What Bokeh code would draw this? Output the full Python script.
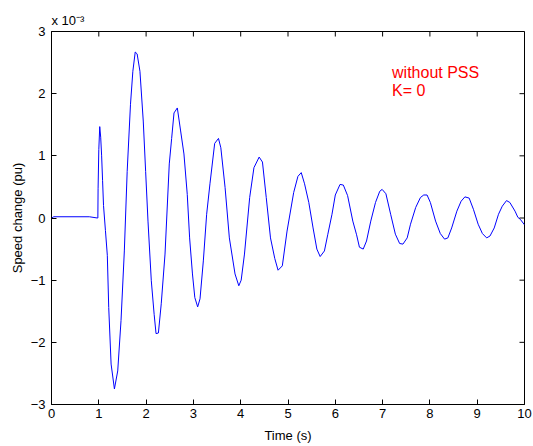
import math
from bokeh.plotting import figure
from bokeh.models import Label, FixedTicker, ColumnDataSource, Title
from bokeh.embed import file_html
from bokeh.resources import INLINE

# Time (s)
time_s = [0.0, 0.05, 0.8, 0.97, 0.98, 0.985, 1.0, 1.02, 1.04, 1.06, 1.08, 1.10, 1.14, 1.18,
          1.21, 1.26, 1.33, 1.40, 1.47, 1.54, 1.60, 1.67, 1.72, 1.77, 1.81, 1.87, 1.94, 1.99,
          2.04, 2.11, 2.17, 2.21, 2.26, 2.32, 2.40, 2.49, 2.54, 2.59, 2.66, 2.73, 2.80, 2.87,
          2.92, 2.98, 3.03, 3.09, 3.14, 3.21, 3.28, 3.35, 3.45, 3.53, 3.58, 3.67, 3.76, 3.88,
          3.96, 4.01, 4.08, 4.19, 4.28, 4.39, 4.46, 4.54, 4.63, 4.72, 4.79, 4.88, 4.98, 5.12,
          5.21, 5.28, 5.35, 5.44, 5.53, 5.61, 5.68, 5.77, 5.84, 5.93, 6.00, 6.10, 6.17, 6.26,
          6.37, 6.45, 6.51, 6.59, 6.66, 6.75, 6.85, 6.94, 6.99, 7.07, 7.17, 7.27, 7.36, 7.43,
          7.52, 7.59, 7.70, 7.80, 7.87, 7.94, 8.01, 8.12, 8.22, 8.31, 8.38, 8.46, 8.57, 8.66,
          8.74, 8.83, 8.92, 9.02, 9.11, 9.20, 9.27, 9.36, 9.45, 9.53, 9.62, 9.69, 9.80, 9.86,
          9.91, 10.0]
# Speed change (pu), in units of 1e-3
speed_change_e3 = [0.0, 0.02, 0.02, 0.0, 0.0, 0.47, 1.1, 1.47, 1.3, 1.0, 0.6, 0.2, -0.2, -0.6,
                   -1.44, -2.35, -2.75, -2.46, -1.65, -0.53, 0.75, 1.83, 2.36, 2.67, 2.64, 2.36,
                   1.56, 0.75, -0.05, -1.01, -1.55, -1.86, -1.85, -1.38, -0.58, 0.87, 1.28, 1.69,
                   1.77, 1.4, 1.03, 0.38, -0.32, -0.9, -1.28, -1.43, -1.3, -0.69, 0.06, 0.55, 1.2,
                   1.28, 1.13, 0.49, -0.32, -0.9, -1.09, -1.0, -0.58, 0.33, 0.81, 0.98, 0.9, 0.33,
                   -0.32, -0.65, -0.84, -0.77, -0.21, 0.41, 0.67, 0.73, 0.55, 0.25, -0.16, -0.5,
                   -0.62, -0.53, -0.27, 0.06, 0.37, 0.54, 0.53, 0.36, -0.05, -0.27, -0.47, -0.5,
                   -0.37, -0.05, 0.25, 0.43, 0.46, 0.39, 0.06, -0.26, -0.41, -0.42, -0.32, -0.1,
                   0.17, 0.33, 0.37, 0.37, 0.25, -0.05, -0.25, -0.34, -0.32, -0.16, 0.11, 0.27,
                   0.34, 0.32, 0.14, -0.1, -0.25, -0.32, -0.29, -0.16, 0.06, 0.19, 0.28, 0.25,
                   0.11, 0.01, -0.02, -0.11]

x_ticks = [0, 1, 2, 3, 4, 5, 6, 7, 8, 9, 10]
y_ticks = [-3, -2, -1, 0, 1, 2, 3]
x_min, x_max = 0, 10
y_min, y_max = -3, 3
annotation_lines = ["without PSS", "K= 0"]
exponent_text = "x 10\u207b\u00b3"

FONT = "Liberation Sans"

p = figure(width=533, height=446, x_range=(x_min, x_max), y_range=(y_min, y_max),
           output_backend="svg", toolbar_location=None,
           min_border_left=51, min_border_right=9, min_border_top=31, min_border_bottom=42)
p.background_fill_color = "white"
p.border_fill_color = "white"
p.outline_line_color = "black"
p.outline_line_width = 1
p.xgrid.visible = False
p.ygrid.visible = False

# exponent shown as title at upper left
p.title = Title(text=exponent_text, align="left", offset=0, standoff=8,
                text_font=FONT, text_font_size="13px", text_font_style="normal",
                text_color="black")

src = ColumnDataSource(dict(t=time_s, v=speed_change_e3))
p.line("t", "v", source=src, line_color="#0000ff", line_width=1)

for ax in (p.xaxis[0], p.yaxis[0]):
    ax.major_tick_in = 5
    ax.major_tick_out = 0
    ax.minor_tick_line_color = None
    ax.axis_line_color = "black"
    ax.major_tick_line_color = "black"
    ax.major_label_text_font = FONT
    ax.major_label_text_font_size = "13px"
    ax.major_label_text_color = "black"
    ax.axis_label_text_font = FONT
    ax.axis_label_text_font_size = "13px"
    ax.axis_label_text_font_style = "normal"
    ax.axis_label_text_color = "black"

p.xaxis[0].ticker = FixedTicker(ticks=x_ticks)
p.yaxis[0].ticker = FixedTicker(ticks=y_ticks)
p.xaxis[0].axis_label = "Time (s)"
p.yaxis[0].axis_label = "Speed change (pu)"
p.xaxis[0].major_label_standoff = 4
p.xaxis[0].axis_label_standoff = 7
p.yaxis[0].major_label_standoff = 6
p.yaxis[0].axis_label_standoff = 3

# inward ticks on top and right edges (box on)
p.ray(x=x_ticks, y=[y_max] * len(x_ticks), length=5, length_units="screen",
      angle=-math.pi / 2, line_color="black", line_width=1)
p.ray(x=[x_max] * len(y_ticks), y=y_ticks, length=5, length_units="screen",
      angle=math.pi, line_color="black", line_width=1)

# annotation text
p.add_layout(Label(x=7.2, y=2.34, text=annotation_lines[0], text_font=FONT,
                   text_font_size="16px", text_color="#ff0000",
                   text_baseline="alphabetic", text_align="left"))
p.add_layout(Label(x=7.2, y=2.05, text=annotation_lines[1], text_font=FONT,
                   text_font_size="16px", text_color="#ff0000",
                   text_baseline="alphabetic", text_align="left"))

open("out.html", "w").write(file_html(p, INLINE))
